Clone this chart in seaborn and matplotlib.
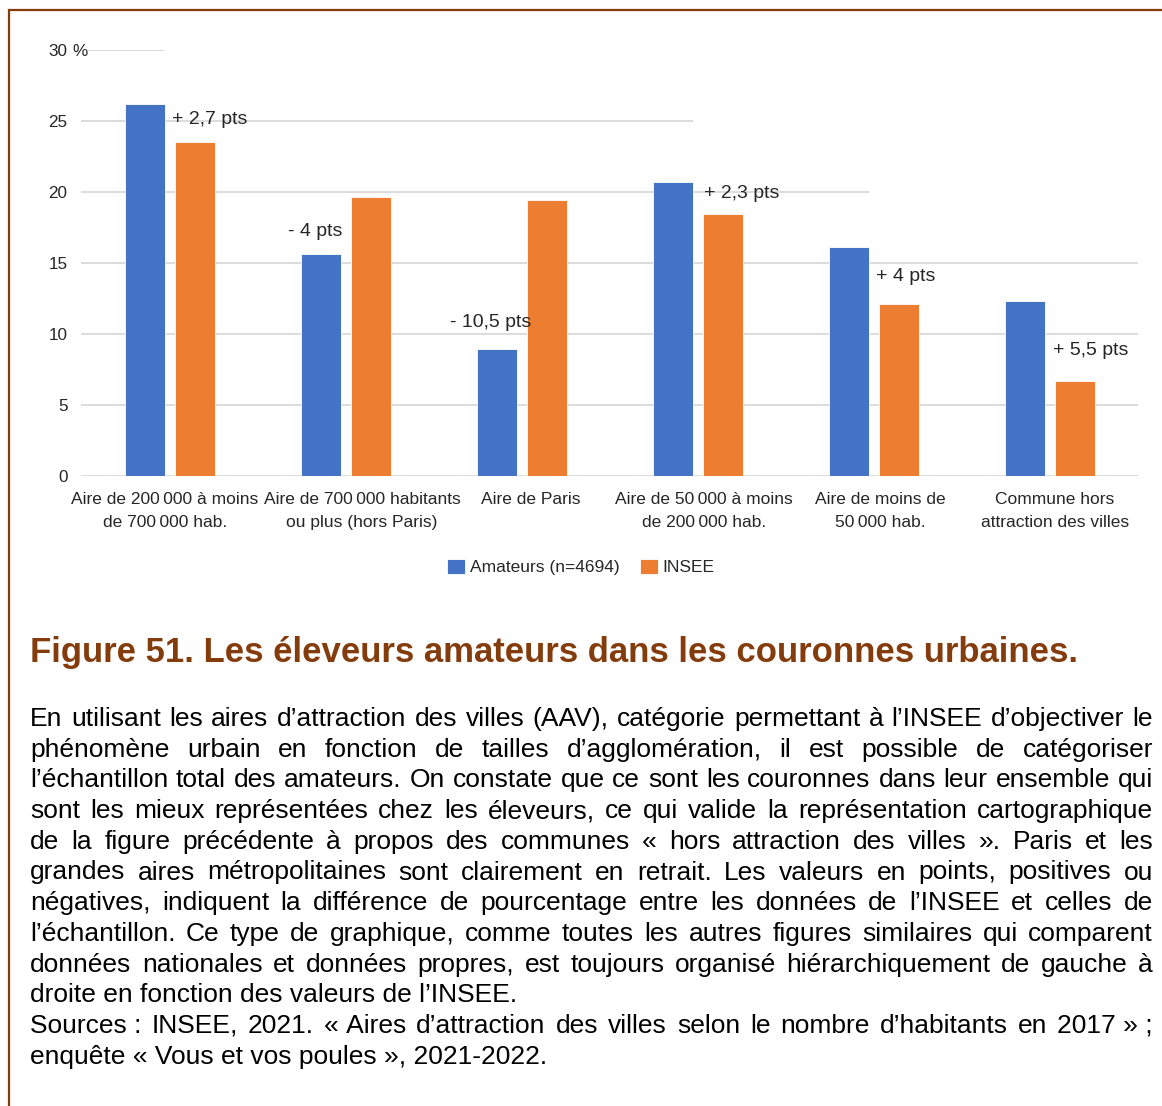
import matplotlib
matplotlib.use("Agg")
import matplotlib.pyplot as plt
import pandas as pd
import seaborn as sns
from matplotlib.patches import Rectangle

# Données (espaces fines entre les milliers)
categories = [
    "Aire de 200\u2009000 à moins\nde 700\u2009000 hab.",
    "Aire de 700\u2009000 habitants\nou plus (hors Paris)",
    "Aire de Paris",
    "Aire de 50\u2009000 à moins\nde 200\u2009000 hab.",
    "Aire de moins de\n50\u2009000 hab.",
    "Commune hors\nattraction des villes",
]
amateurs = [26.2, 15.6, 8.9, 20.7, 16.1, 12.3]
insee = [23.5, 19.6, 19.4, 18.4, 12.1, 6.7]
ecarts = ["+ 2,7 pts", "- 4 pts", "- 10,5 pts", "+ 2,3 pts", "+ 4 pts", "+ 5,5 pts"]
series = ["Amateurs (n=4694)", "INSEE"]
yticks = [0, 5, 10, 15, 20, 25, 30]

titre = "Figure 51. Les éleveurs amateurs dans les couronnes urbaines."
paragraphe = [
    "En utilisant les aires d’attraction des villes (AAV), catégorie permettant à l’INSEE d’objectiver le",
    "phénomène urbain en fonction de tailles d’agglomération, il est possible de catégoriser",
    "l’échantillon total des amateurs. On constate que ce sont les couronnes dans leur ensemble qui",
    "sont les mieux représentées chez les éleveurs, ce qui valide la représentation cartographique",
    "de la figure précédente à propos des communes « hors attraction des villes ». Paris et les",
    "grandes aires métropolitaines sont clairement en retrait. Les valeurs en points, positives ou",
    "négatives, indiquent la différence de pourcentage entre les données de l’INSEE et celles de",
    "l’échantillon. Ce type de graphique, comme toutes les autres figures similaires qui comparent",
    "données nationales et données propres, est toujours organisé hiérarchiquement de gauche à",
    "droite en fonction des valeurs de l’INSEE.",
    "Sources\u00a0: INSEE, 2021. «\u00a0Aires d’attraction des villes selon le nombre d’habitants en 2017\u00a0»\u00a0;",
    "enquête «\u00a0Vous et vos poules\u00a0», 2021-2022.",
]
justifie = [True] * 9 + [False, True, False]

# mise en page (pixels de l'image d'origine)
W, H = 1162, 1106
BLEU, ORANGE, BRUN = "#4472C4", "#ED7D31", "#843C0C"
GRIS = "#D9D9D9"
TEXTE = "#262626"
# position des étiquettes d'écart (décalage x par rapport à la catégorie, y en %)
pos_ecarts = [(0.011, 25.1), (-0.33, 17.2), (-0.41, 10.8),
              (0.034, 19.9), (0.011, 14.0), (0.017, 8.8)]
# décalage horizontal des libellés de catégories (points)
decal_libelles = [-3.6, 11.5, 6.5, 4.3, 4.3, 3.6]
# le quadrillage haut est masqué à droite de certaines barres
arret_grille = {30: 0, 25: 3, 20: 4}


def texte_justifie(fig, ligne, y, x0, x1, justifier, **kw):
    """Écrit une ligne de texte, justifiée entre x0 et x1 si demandé"""
    if not justifier:
        fig.text(x0, y, ligne, **kw)
        return
    mots = ligne.split(" ")
    r = fig.canvas.get_renderer()
    objets = [fig.text(0, y, m, **kw) for m in mots]
    largeurs = [o.get_window_extent(r).width / fig.bbox.width for o in objets]
    espace = (x1 - x0 - sum(largeurs)) / (len(mots) - 1)
    x = x0
    for o, l in zip(objets, largeurs):
        o.set_x(x)
        x += l + espace


df = pd.DataFrame({
    "categorie": categories * 2,
    "part": amateurs + insee,
    "serie": [series[0]] * len(categories) + [series[1]] * len(categories),
})

sns.set_theme(style="white")
plt.rcParams["font.family"] = ["Liberation Sans", "DejaVu Sans"]

fig = plt.figure(figsize=(W / 100, H / 100), dpi=100)
ax = fig.add_axes([81 / W, 1 - 476 / H, (1138 - 81) / W, (476 - 49.5) / H])

sns.barplot(
    data=df, x="categorie", y="part", hue="serie",
    palette=[BLEU, ORANGE], saturation=1, width=0.568, gap=0.2,
    edgecolor="white", linewidth=0.6, ax=ax, zorder=2,
)

ax.set_xlim(-0.505, 5.5)
ax.set_ylim(0, 30)
ax.set_xlabel("")
ax.set_ylabel("")
sns.despine(ax=ax, left=True, bottom=True)

# quadrillage
x_gauche, x_droite = ax.get_xlim()
barres_bleues = ax.containers[0]
for v in yticks:
    debut = x_gauche
    fin = x_droite
    if v in arret_grille:
        b = barres_bleues[arret_grille[v]]
        fin = b.get_x() + b.get_width()
    if v == 30:
        debut = x_gauche + 7 / 176
    ax.hlines(v, debut, fin, color=GRIS, linewidth=1.3, zorder=0)

ax.set_yticks(yticks)
ax.set_yticklabels([str(v) for v in yticks])
ax.tick_params(axis="y", length=0, pad=9.7, labelsize=12.3, labelcolor=TEXTE)
ax.annotate("%", xy=(0, 30), xycoords=ax.get_yaxis_transform(),
            xytext=(-6.5, 0), textcoords="offset points",
            ha="left", va="center_baseline", fontsize=12.3, color=TEXTE)

# libellés des catégories, placés sous chaque groupe de barres
ax.set_xticks(range(len(categories)))
ax.set_xticklabels([])
ax.tick_params(axis="x", length=0)
for i, (lib, dx) in enumerate(zip(categories, decal_libelles)):
    ax.annotate(lib, xy=(i, 0), xycoords=ax.get_xaxis_transform(),
                xytext=(dx, -11.5), textcoords="offset points",
                ha="center", va="top", multialignment="center",
                linespacing=1.68, fontsize=12.5, color=TEXTE)

# étiquettes d'écart
for i, (txt, (dx, y)) in enumerate(zip(ecarts, pos_ecarts)):
    ax.text(i + dx, y, txt, ha="left", va="center", fontsize=14, color=TEXTE, zorder=3)

sns.move_legend(
    ax, "center", bbox_to_anchor=(581 / W, 1 - 567 / H), bbox_transform=fig.transFigure,
    ncol=2, frameon=False, title=None, fontsize=12.5,
    handlelength=1.0, handleheight=1.0, handletextpad=0.3, columnspacing=1.2,
)
for t in ax.get_legend().get_texts():
    t.set_color(TEXTE)

# cadre brun
fig.patches.append(Rectangle((8.5 / W, -0.1), 2, 1 - 10.5 / H + 0.1,
                             transform=fig.transFigure, fill=False,
                             edgecolor=BRUN, linewidth=1.6))

fig.text(30 / W, 1 - 662 / H, titre, fontsize=25, fontweight="bold",
         color=BRUN, va="baseline")

for k, (ligne, j) in enumerate(zip(paragraphe, justifie)):
    y = 1 - (726 + 30.7 * k) / H
    texte_justifie(fig, ligne, y, 30 / W, 1153 / W, j,
                   fontsize=19, color="black", va="baseline")

fig.savefig("out.png", dpi=100)
